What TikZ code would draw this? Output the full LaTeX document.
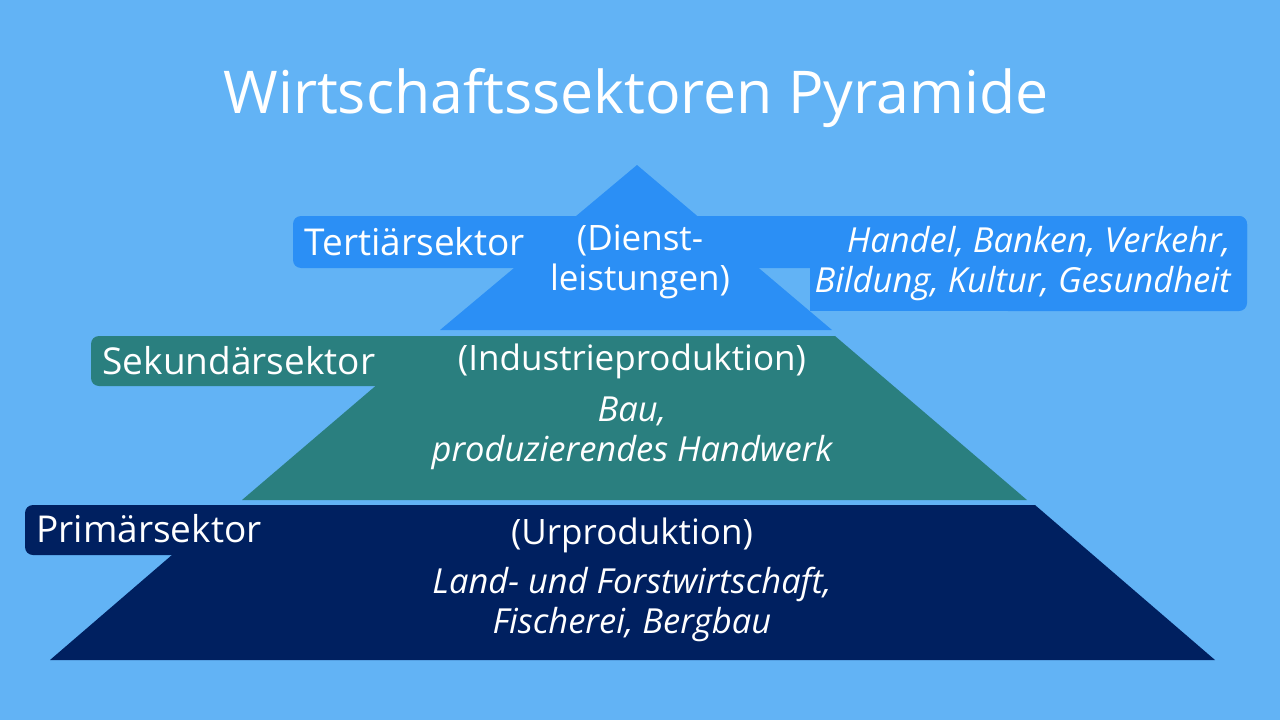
\documentclass[tikz,border=0pt]{standalone}
\usepackage{fontspec}
\setmainfont{Open Sans}
\definecolor{bg}{HTML}{62B3F5}
\definecolor{ter}{HTML}{2B8FF5}
\definecolor{sek}{HTML}{2A7F7F}
\definecolor{pri}{HTML}{002060}
\begin{document}
\begin{tikzpicture}[x=1pt,y=-1pt,
  lab/.style={text=white,font=\fontsize{37}{40}\selectfont,align=center},
  mid/.style={text=white,font=\fontsize{35}{40}\selectfont,align=center},
  ita/.style={text=white,font=\fontsize{34.5}{40}\selectfont\itshape,align=center}]
\fill[bg] (0,0) rectangle (1280,720);
\useasboundingbox (0,0) rectangle (1280,720);
\node[text=white,font=\fontsize{59}{62}\selectfont] (title) at (636,98) {Wirtschaftssektoren Pyramide};
% tertiary
\fill[ter] (637,165) -- (832,330) -- (440,330) -- cycle;
\fill[ter,rounded corners=8pt] (293,216) rectangle (1247,268);
\fill[ter] (810,240) rectangle (1200,311);
\fill[ter,rounded corners=8pt] (1000,216) rectangle (1247,311);
\node[lab,anchor=west] (t1) at (301,242) {Tertiärsektor};
\node[mid] (t2) at (640,262) {(Dienst-\\leistungen)};
\node[ita,align=right,anchor=east] (t3) at (1234,264) {Handel, Banken, Verkehr,\\Bildung, Kultur, Gesundheit};
% secondary
\fill[sek] (434,336) -- (835,336) -- (1027,500) -- (242,500) -- cycle;
\fill[sek,rounded corners=8pt] (91,336) rectangle (445,386);
\node[lab,anchor=west] (s1) at (99,361) {Sekundärsektor};
\node[mid] (s2) at (632,361) {(Industrieproduktion)};
\node[ita] (s3) at (632,433) {Bau,\\produzierendes Handwerk};
% primary
\fill[pri] (230,505) -- (1035,505) -- (1215,660) -- (50,660) -- cycle;
\fill[pri,rounded corners=8pt] (25,505) rectangle (440,555);
\node[lab,anchor=west] (p1) at (33,529) {Primärsektor};
\node[mid] (p2) at (632,535) {(Urproduktion)};
\node[ita] (p3) at (632,604) {Land- und Forstwirtschaft,\\Fischerei, Bergbau};
\end{tikzpicture}
\end{document}
